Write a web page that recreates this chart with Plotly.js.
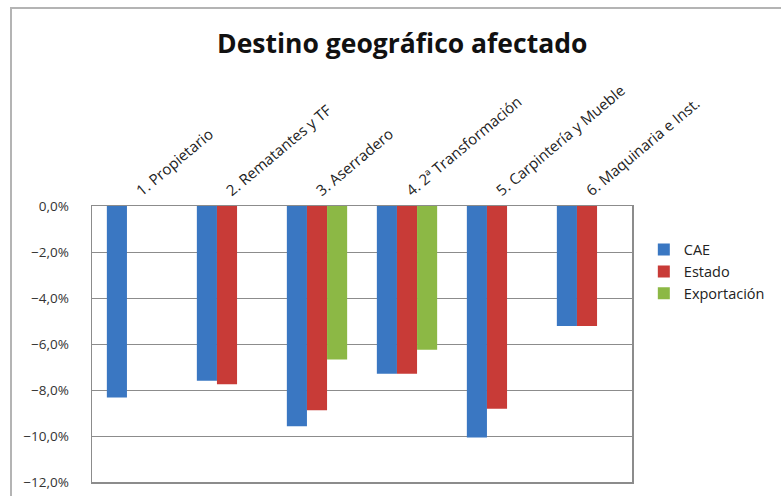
<!DOCTYPE html>
<html>
<head>
<meta charset="utf-8">
<script src="https://cdn.plot.ly/plotly-3.0.1.min.js"></script>
<style>
html,body{margin:0;padding:0;background:#fff;}
#wrap{position:relative;width:781px;height:496px;overflow:hidden;}
#chart{position:absolute;left:0;top:0;width:781px;height:496px;}
#frame{position:absolute;left:10px;top:7px;width:800px;height:520px;border-left:2px solid #b4b4b4;border-top:2px solid #b4b4b4;pointer-events:none;}
</style>
</head>
<body>
<div id="wrap"><div id="chart"></div><div id="frame"></div></div>
<script>
const categories = ["1. Propietario", "2. Rematantes y TF", "3. Aserradero", "4. 2ª Transformación", "5. Carpintería y Mueble", "6. Maquinaria e Inst."];
const cae = [-8.33, -7.6, -9.58, -7.29, -10.07, -5.22];
const estado = [null, -7.75, -8.88, -7.29, -8.81, -5.22];
const exportacion = [null, null, -6.67, -6.25, null, null];
const seriesNames = ["CAE", "Estado", "Exportación"];
const colors = ["#3a77c2", "#c83b37", "#8cb845"];

const traces = [cae, estado, exportacion].map((vals, i) => ({
  type: 'bar',
  name: seriesNames[i],
  x: categories,
  y: vals,
  marker: {color: colors[i], line: {width: 0}},
  hoverinfo: 'none'
}));

const FONT = '"Open Sans", Lato, sans-serif';
const layout = {
  width: 781, height: 496,
  margin: {l: 92, r: 148, t: 206, b: 14, pad: 0},
  paper_bgcolor: '#ffffff', plot_bgcolor: '#ffffff',
  separators: ',.',
  font: {family: FONT, color: '#404040'},
  title: {text: '<b>Destino geográfico afectado</b>', x: 0.515, xanchor: 'center', y: 0.912, yanchor: 'middle',
          font: {size: 26.5, color: '#111111', family: FONT}},
  barmode: 'group',
  bargap: 0.33,
  bargroupgap: 0,
  showlegend: true,
  legend: {x: 1.02, y: 0.9, xanchor: 'left', yanchor: 'top', font: {size: 14.5, color: '#222222', family: FONT},
           traceorder: 'normal', bgcolor: 'rgba(0,0,0,0)'},
  xaxis: {
    side: 'top', type: 'category', tickangle: -40,
    tickfont: {size: 15, color: '#222222', family: FONT},
    showgrid: false, zeroline: false, showline: true, linecolor: '#8c8c8c', linewidth: 1.5, mirror: true,
    ticks: '', fixedrange: true
  },
  yaxis: {
    range: [-12, 0], dtick: 2, tick0: 0, tickformat: '.1f', ticksuffix: '%',
    tickfont: {size: 13.5, color: '#333333', family: FONT},
    showgrid: true, gridcolor: '#8c8c8c', gridwidth: 1,
    zeroline: false, showline: true, linecolor: '#8c8c8c', linewidth: 1.5, mirror: true,
    ticks: '', ticklabelstandoff: 19, fixedrange: true
  }
};

Plotly.newPlot('chart', traces, layout, {staticPlot: true, displayModeBar: false});
</script>
</body>
</html>
